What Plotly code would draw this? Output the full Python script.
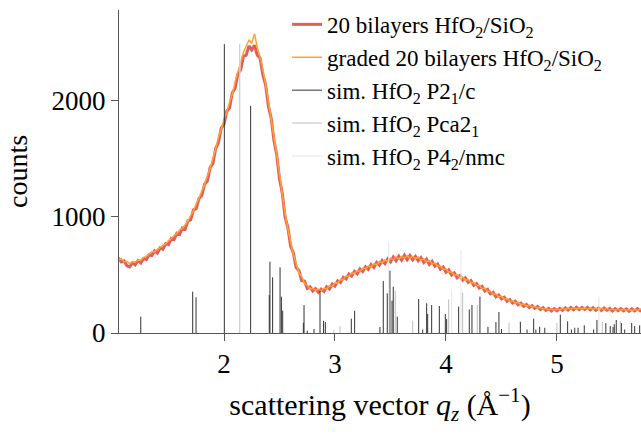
import plotly.graph_objects as go

# ---------------- data ----------------
q = [1.050, 1.075, 1.100, 1.125, 1.150, 1.175, 1.200, 1.225, 1.250, 1.275,
     1.300, 1.325, 1.350, 1.375, 1.400, 1.425, 1.450, 1.475, 1.500, 1.525,
     1.550, 1.575, 1.600, 1.625, 1.650, 1.675, 1.700, 1.725, 1.750, 1.775,
     1.800, 1.825, 1.850, 1.875, 1.900, 1.925, 1.950, 1.975, 2.000, 2.025,
     2.050, 2.075, 2.100, 2.125, 2.150, 2.175, 2.200, 2.225, 2.250, 2.275,
     2.300, 2.325, 2.350, 2.375, 2.400, 2.425, 2.450, 2.475, 2.500, 2.525,
     2.550, 2.575, 2.600, 2.625, 2.650, 2.675, 2.700, 2.725, 2.750, 2.775,
     2.800, 2.825, 2.850, 2.875, 2.900, 2.925, 2.950, 2.975, 3.000, 3.025,
     3.050, 3.075, 3.100, 3.125, 3.150, 3.175, 3.200, 3.225, 3.250, 3.275,
     3.300, 3.325, 3.350, 3.375, 3.400, 3.425, 3.450, 3.475, 3.500, 3.525,
     3.550, 3.575, 3.600, 3.625, 3.650, 3.675, 3.700, 3.725, 3.750, 3.775,
     3.800, 3.825, 3.850, 3.875, 3.900, 3.925, 3.950, 3.975, 4.000, 4.025,
     4.050, 4.075, 4.100, 4.125, 4.150, 4.175, 4.200, 4.225, 4.250, 4.275,
     4.300, 4.325, 4.350, 4.375, 4.400, 4.425, 4.450, 4.475, 4.500, 4.525,
     4.550, 4.575, 4.600, 4.625, 4.650, 4.675, 4.700, 4.725, 4.750, 4.775,
     4.800, 4.825, 4.850, 4.875, 4.900, 4.925, 4.950, 4.975, 5.000, 5.025,
     5.050, 5.075, 5.100, 5.125, 5.150, 5.175, 5.200, 5.225, 5.250, 5.275,
     5.300, 5.325, 5.350, 5.375, 5.400, 5.425, 5.450, 5.475, 5.500, 5.525,
     5.550, 5.575, 5.600, 5.625, 5.650, 5.675, 5.700, 5.725, 5.750, 5.775]

counts_20bl = [
    645, 612, 622, 580, 570, 605, 588, 625, 603, 641,
    632, 675, 668, 708, 688, 735, 722, 770, 762, 815,
    805, 860, 850, 905, 895, 968, 975, 1062, 1072, 1160,
    1185, 1282, 1310, 1425, 1462, 1590, 1642, 1765, 1798, 1912,
    1940, 2070, 2110, 2235, 2265, 2385, 2395, 2475, 2440, 2480,
    2395, 2370, 2225, 2140, 1955, 1850, 1660, 1535, 1330, 1205,
    1000, 910, 752, 688, 565, 538, 452, 448, 385, 398,
    362, 382, 350, 378, 358, 398, 380, 422, 405, 450,
    436, 480, 466, 508, 490, 532, 510, 552, 530, 570,
    548, 590, 565, 608, 585, 625, 598, 640, 612, 655,
    622, 662, 628, 670, 632, 668, 630, 660, 622, 650,
    608, 636, 592, 618, 575, 595, 550, 568, 525, 545,
    500, 518, 476, 495, 455, 475, 436, 452, 410, 426,
    388, 402, 362, 376, 338, 350, 312, 328, 294, 308,
    274, 288, 258, 274, 244, 258, 230, 246, 220, 236,
    212, 228, 202, 218, 196, 212, 190, 210, 192, 212,
    195, 216, 198, 220, 200, 222, 202, 221, 203, 220,
    200, 218, 196, 216, 194, 215, 196, 212, 190, 210,
    192, 210, 190, 208, 188, 207, 190, 209, 192, 208]

counts_graded = [
    628, 640, 612, 618, 598, 615, 612, 630, 628, 652,
    660, 680, 702, 700, 722, 735, 758, 768, 796, 812,
    840, 858, 888, 902, 935, 965, 1015, 1055, 1115, 1162,
    1225, 1280, 1358, 1418, 1505, 1585, 1690, 1752, 1845, 1905,
    1990, 2060, 2165, 2240, 2335, 2420, 2470, 2525, 2500, 2580,
    2460, 2380, 2270, 2150, 1995, 1858, 1690, 1540, 1360, 1210,
    1030, 902, 785, 675, 598, 522, 485, 430, 412, 380,
    385, 366, 378, 362, 385, 380, 408, 402, 432, 430,
    462, 460, 492, 488, 518, 512, 538, 530, 558, 552,
    578, 570, 595, 588, 615, 605, 630, 618, 645, 630,
    655, 638, 660, 645, 668, 642, 662, 640, 656, 628,
    638, 612, 625, 596, 604, 574, 578, 548, 552, 524,
    528, 498, 504, 476, 482, 456, 462, 434, 436, 408,
    412, 384, 386, 358, 362, 334, 336, 310, 316, 292,
    296, 272, 278, 258, 264, 245, 250, 232, 240, 222,
    230, 214, 220, 205, 212, 198, 208, 196, 206, 198,
    212, 202, 215, 205, 218, 206, 218, 208, 216, 206,
    216, 204, 214, 202, 212, 200, 212, 198, 206, 196,
    206, 195, 207, 194, 204, 193, 205, 195, 206, 198]

# simulated reflections: positions (1/Angstrom) and heights (counts)
p21c_q = [1.250, 1.718, 1.748, 2.003, 2.240, 2.408, 2.414, 2.438, 2.505, 2.517,
          2.529, 2.715, 2.721, 2.750, 2.811, 2.865, 2.897, 2.913, 3.147, 3.177,
          3.405, 3.435, 3.471, 3.495, 3.514, 3.525, 3.561, 3.754, 3.790, 3.826,
          3.835, 3.871, 3.940, 3.994, 4.006, 4.114, 4.210, 4.234, 4.306, 4.378,
          4.450, 4.477, 4.500, 4.670, 4.730, 4.790, 4.810, 4.844, 4.890, 5.030,
          5.096, 5.130, 5.160, 5.190, 5.246, 5.330, 5.360, 5.440, 5.480, 5.505,
          5.516, 5.534, 5.580, 5.610, 5.673, 5.700, 5.745]
p21c_h = [141, 356, 308, 2490, 1957, 327, 615, 480, 566, 313,
          192, 88, 241, 20, 34, 365, 105, 95, 124, 192,
          52, 448, 342, 537, 279, 399, 141, 293, 30, 256,
          164, 241, 233, 164, 120, 227, 204, 241, 313, 54,
          95, 181, 34, 97, 30, 124, 30, 54, 45, 158,
          101, 30, 45, 45, 66, 30, 112, 86, 60, 52,
          75, 112, 86, 30, 86, 60, 66]

pca21_q = [2.140, 2.990, 3.045, 3.543, 3.700, 4.024, 4.150, 4.282, 4.568, 5.000,
           5.408, 5.570]
pca21_h = [2490, 25, 60, 365, 106, 290, 348, 241, 89, 86,
           97, 101]

p42_q = [2.145, 3.484, 4.051, 4.135, 5.378]
p42_h = [2490, 787, 371, 715, 313]


def sticks(pos, hgt):
    xs, ys = [], []
    for p, h in zip(pos, hgt):
        xs += [p, p, None]
        ys += [0, h, None]
    return xs, ys


FONT = "Liberation Serif"
fig = go.Figure()
fig.add_trace(go.Scatter(x=q, y=counts_20bl, mode="lines",
                         line=dict(color="#e35d5d", width=3),
                         name="20 bilayers HfO<sub>2</sub>/SiO<sub>2</sub>"))
fig.add_trace(go.Scatter(x=q, y=counts_graded, mode="lines",
                         line=dict(color="#ffa332", width=1.5),
                         name="graded 20 bilayers HfO<sub>2</sub>/SiO<sub>2</sub>"))
for pos, hgt, col, nm in [
        (p21c_q, p21c_h, "#333333", "sim. HfO<sub>2</sub> P2<sub>1</sub>/c"),
        (pca21_q, pca21_h, "#bdbdbd", "sim. HfO<sub>2</sub> Pca2<sub>1</sub>"),
        (p42_q, p42_h, "#e6e6e6", "sim. HfO<sub>2</sub> P4<sub>2</sub>/nmc")]:
    xs, ys = sticks(pos, hgt)
    fig.add_trace(go.Scatter(x=xs, y=ys, mode="lines",
                             line=dict(color=col, width=1), name=nm))

fig.update_layout(
    width=641, height=440,
    margin=dict(l=119, r=0, t=10, b=107),
    paper_bgcolor="white", plot_bgcolor="white",
    font=dict(family=FONT, color="black", size=23),
    showlegend=True,
    legend=dict(x=0.322, y=1.022, xanchor="left", yanchor="top",
                bgcolor="rgba(255,255,255,0)", font=dict(size=23, family=FONT)),
)
fig.update_xaxes(range=[1.054, 5.757], showgrid=False, zeroline=False,
                 showline=True, linecolor="#555555", linewidth=1,
                 ticks="outside", ticklen=7, tickcolor="#555555",
                 tickvals=[2, 3, 4, 5], tickfont=dict(size=27, family=FONT),
                 title=dict(text="scattering vector <i>q<sub>z</sub></i> (Å<sup>−1</sup>)",
                            font=dict(size=30, family=FONT)))
fig.update_yaxes(range=[0, 2784], showgrid=False, zeroline=False,
                 showline=True, linecolor="#555555", linewidth=1,
                 ticks="outside", ticklen=7, tickcolor="#555555",
                 tickvals=[0, 1000, 2000], tickfont=dict(size=27, family=FONT),
                 title=dict(text="counts", font=dict(size=28, family=FONT)))

fig.write_html("out.html")
